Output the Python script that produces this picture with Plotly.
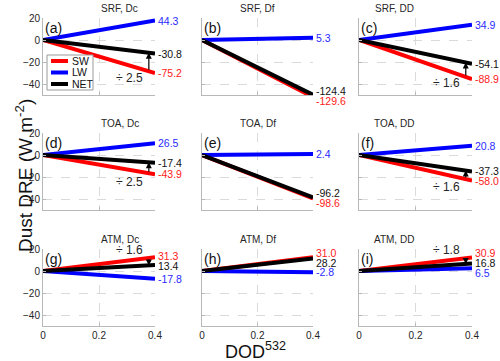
import plotly.graph_objects as go

# DRE efficiency (W m-2 per unit DOD), panels a..i
titles = ["SRF, Dc", "SRF, Df", "SRF, DD",
          "TOA, Dc", "TOA, Df", "TOA, DD",
          "ATM, Dc", "ATM, Df", "ATM, DD"]
tags = ["(a)", "(b)", "(c)", "(d)", "(e)", "(f)", "(g)", "(h)", "(i)"]
sw_eff = [-75.2, -129.6, -88.9, -43.9, -98.6, -58.0, 31.3, 31.0, 30.9]
lw_eff = [44.3, 5.3, 34.9, 26.5, 2.4, 20.8, -17.8, -2.8, 6.5]
net_eff = [-30.8, -124.4, -54.1, -17.4, -96.2, -37.3, 13.4, 28.2, 16.8]
ratio_text = ["2.5", None, "1.6", "2.5", None, "1.6", "1.6", None, "1.8"]
dod = [0, 0.4]
x_ticks = [0, 0.2, 0.4]
y_ticks = [-40, -20, 0, 20]

W, H = 500, 361
YR = [-50, 20]
col_px = [(43, 155), (202, 313), (359, 472)]
row_px = [(18, 95), (133, 210), (249, 326)]
FONT = "Liberation Sans, Arial, sans-serif"
GRID = "#dadada"
AXL = "#b8b8b8"


def spread(vals, gap):
    pos = list(vals)
    for _ in range(100):
        order = sorted(range(len(pos)), key=lambda k: pos[k])
        moved = False
        for a, b in zip(order[:-1], order[1:]):
            d = pos[b] - pos[a]
            if d < gap:
                s = (gap - d) / 2
                pos[a] -= s
                pos[b] += s
                moved = True
        if not moved:
            break
    return pos


fig = go.Figure()
annots = []
shapes = []
series = [("SW", sw_eff, "#ff0000", "#ff1a1a"),
          ("LW", lw_eff, "#0000ff", "#2a2aff"),
          ("NET", net_eff, "#000000", "#111111")]

for i in range(9):
    r, c = divmod(i, 3)
    n = "" if i == 0 else str(i + 1)
    xa, ya = "x" + n, "y" + n
    x0, x1 = col_px[c]
    t0, t1 = row_px[r]
    common = dict(showgrid=True, gridcolor=GRID, griddash="dash", zeroline=False,
                  showline=True, linecolor=AXL, linewidth=1, automargin=False,
                  ticks="inside", ticklen=3, tickcolor=AXL,
                  tickfont=dict(size=10, color="#262626"))
    fig.update_layout(**{
        "xaxis" + n: dict(domain=[x0 / W, x1 / W], anchor=ya, range=[0, 0.4],
                          tickvals=x_ticks, showticklabels=(r == 2), **common),
        "yaxis" + n: dict(domain=[1 - t1 / H, 1 - t0 / H], anchor=xa, range=YR,
                          tickvals=y_ticks, showticklabels=(c == 0), **common),
    })
    for name, eff, col, _ in series:
        fig.add_trace(go.Scatter(x=dod, y=[0, eff[i] * dod[1]], mode="lines",
                                 line=dict(color=col, width=4), name=name,
                                 showlegend=False, xaxis=xa, yaxis=ya))

    # end-of-line value labels, spread apart to avoid overlap
    ends = [eff[i] * dod[1] for _, eff, _, _ in series]
    pos = spread(ends, 8.7)
    ppu = (t1 - t0) / (YR[1] - YR[0])
    for (name, eff, _, tcol), p in zip(series, pos):
        anchor = min(max(p, YR[0]), YR[1])
        annots.append(dict(x=dod[1], y=anchor, xref=xa, yref=ya, text=f"{eff[i]:.1f}",
                           showarrow=False, xanchor="left", yanchor="middle",
                           xshift=1, yshift=(p - anchor) * ppu,
                           font=dict(size=10.5, color=tcol, family=FONT)))

    # title and panel tag
    annots.append(dict(x=(x0 + x1) / 2 / W, y=1 - t0 / H, xref="paper", yref="paper",
                       text=titles[i], showarrow=False, yanchor="bottom", yshift=2,
                       font=dict(size=10, color="#262626", family=FONT)))
    annots.append(dict(x=0.0, y=1.0, xref=xa + " domain", yref=ya + " domain",
                       text=tags[i], showarrow=False, xanchor="left", yanchor="top",
                       font=dict(size=14, color="#111", family=FONT)))

    if ratio_text[i]:
        xa_pos = 0.378
        ysw = sw_eff[i] * xa_pos
        ynet = net_eff[i] * xa_pos
        annots.append(dict(x=xa_pos, y=ynet, ax=xa_pos, ay=ysw, xref=xa, yref=ya,
                           axref=xa, ayref=ya, text="", showarrow=True,
                           arrowhead=2, arrowsize=1, arrowwidth=1.2, arrowcolor="#000"))
        up = sw_eff[i] > 0
        annots.append(dict(x=0.365, y=sw_eff[i] * 0.33, xref=xa, yref=ya,
                           text="\u00f7 " + ratio_text[i], showarrow=False,
                           xanchor="right", yanchor="bottom" if up else "top",
                           yshift=1 if up else -2,
                           font=dict(size=12, color="#262626", family=FONT)))

# legend box drawn in panel (a)
shapes.append(dict(type="rect", xref="paper", yref="paper",
                   x0=47 / W, x1=93 / W, y0=1 - 90 / H, y1=1 - 55 / H,
                   line=dict(color="#999", width=1), fillcolor="white", layer="above"))
for k, (name, _, col, _) in enumerate(series):
    yy = 1 - (61 + 11.5 * k) / H
    shapes.append(dict(type="line", xref="paper", yref="paper",
                       x0=51 / W, x1=68 / W, y0=yy, y1=yy,
                       line=dict(color=col, width=4), layer="above"))
    annots.append(dict(x=70 / W, y=yy, xref="paper", yref="paper", text=name,
                       showarrow=False, xanchor="left", yanchor="middle",
                       font=dict(size=10.5, color="#111", family=FONT)))

annots.append(dict(x=10 / W, y=1 - 176 / H, xref="paper", yref="paper",
                   text="Dust DRE (W m<sup>-2</sup>)", textangle=-90, showarrow=False,
                   font=dict(size=19, color="#111", family=FONT)))
annots.append(dict(x=255 / W, y=0, xref="paper", yref="paper",
                   text="DOD<sup>532</sup>", showarrow=False, yanchor="bottom", yshift=-3,
                   font=dict(size=18, color="#111", family=FONT)))

fig.update_layout(
    width=W, height=H, margin=dict(l=0, r=0, t=0, b=0),
    paper_bgcolor="white", plot_bgcolor="white",
    font=dict(family=FONT), showlegend=False,
    annotations=annots, shapes=shapes,
)

fig.write_html("out.html", config={"displayModeBar": False},
               post_script="document.body.style.margin='0';")
